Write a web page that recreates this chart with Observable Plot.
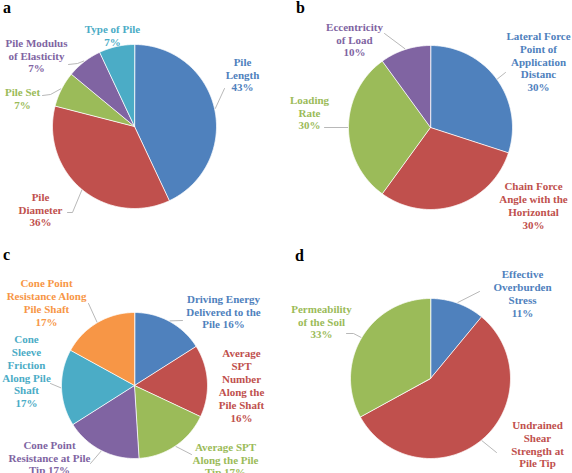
<!DOCTYPE html>
<html><head><meta charset="utf-8">
<script src="https://cdn.jsdelivr.net/npm/d3@7"></script>
<script src="https://cdn.jsdelivr.net/npm/@observablehq/plot@0.6"></script>
<style>
body{margin:0;background:#fff;}
#root{position:relative;width:572px;height:473px;overflow:hidden;}
.panel{position:absolute;}
.tag{position:absolute;font:bold 16px/16px "Liberation Serif",serif;color:#000;}
</style></head><body><div id="root"></div>
<script>
// ---------- DATA ----------
const aNames = ["Pile\nLength", "Pile\nDiameter", "Pile Set", "Pile Modulus\nof Elasticity", "Type of Pile"];
const aValues = [43, 36, 7, 7, 7];

const bNames = ["Lateral Force\nPoint of\nApplication\nDistanc", "Chain Force\nAngle with the\nHorizontal", "Loading\nRate", "Eccentricity\nof Load"];
const bValues = [30, 30, 30, 10];

const cNames = ["Driving Energy\nDelivered to the\nPile", "Average\nSPT\nNumber\nAlong the\nPile Shaft", "Average SPT\nAlong the Pile\nTip", "Cone Point\nResistance at Pile\nTip", "Cone\nSleeve\nFriction\nAlong Pile\nShaft", "Cone Point\nResistance Along\nPile Shaft"];
const cValues = [16, 16, 17, 17, 17, 17];

const dNames = ["Effective\nOverburden\nStress", "Undrained\nShear\nStrength at\nPile Tip", "Permeability\nof the Soil"];
const dValues = [11, 56, 33];

const panelTags = ["a", "b", "c", "d"];

// ---------- STYLE / LAYOUT ----------
const blue = "#4F81BD", red = "#C0504D", green = "#9BBB59", purple = "#8064A2", aqua = "#4BACC6", orange = "#F79646";

const layout = [
  {left: 0, top: 0, W: 286, H: 236, cx: 134, cy: 126, r: 82, tagX: 3, tagY: 0,
   names: aNames, values: aValues, colors: [blue, red, green, purple, aqua],
   seps: ["\n", "\n", "\n", "\n", "\n"],
   labelAt: [[242, 74], [40, 209], [22, 97.5], [36, 55], [112, 34.5]],
   leaders: [[[224, 88]], [[72, 212], [67, 212]], [[50, 94], [42, 95]], [[77, 63], [68, 64]], null]},
  {left: 286, top: 0, W: 286, H: 236, cx: 144, cy: 127, r: 82, tagX: 10, tagY: 0,
   names: bNames, values: bValues, colors: [blue, red, green, purple],
   seps: ["\n", "\n", "\n", "\n"],
   labelAt: [[252, 61], [247, 205], [23, 112], [68, 39]],
   leaders: [[[219, 72]], null, [[38, 127]], [[98, 33]]]},
  {left: 0, top: 236, W: 286, H: 237, cx: 134, cy: 149, r: 73, tagX: 3, tagY: 11,
   names: cNames, values: cValues, colors: [blue, red, green, purple, aqua, orange],
   seps: [" ", "\n", " ", " ", "\n", "\n"],
   labelAt: [[223, 75], [241, 149], [225, 223], [49, 221], [26, 134.5], [46, 66]],
   leaders: [[[182, 84]], null, [[191, 218]], [[90, 227]], [[50, 147]], [[88, 67]]]},
  {left: 286, top: 236, W: 286, H: 237, cx: 144, cy: 142, r: 80, tagX: 9, tagY: 12,
   names: dNames, values: dValues, colors: [blue, red, green],
   seps: ["\n", "\n", "\n"],
   labelAt: [[236, 57], [251, 214], [35, 85]],
   leaders: [[[193, 55]], [[210, 216]], [[67, 97], [60, 97]]]}
];

const root = document.getElementById("root");

layout.forEach((L, p) => {
  const {W, H, cx, cy, r, names, values, colors} = L;
  const ux = px => (px - cx) / r;
  const uy = py => (cy - py) / r;
  const arcs = d3.pie().sort(null).value(d => d)(values);

  const poly = [];
  const leaderPts = [];
  const labels = [];
  arcs.forEach((a, i) => {
    const k = names[i];
    poly.push({k, x: 0, y: 0});
    const n = Math.max(2, Math.ceil((a.endAngle - a.startAngle) / 0.01));
    for (let j = 0; j <= n; j++) {
      const t = a.startAngle + (a.endAngle - a.startAngle) * j / n;
      poly.push({k, x: Math.sin(t), y: Math.cos(t)});
    }
    const mid = (a.startAngle + a.endAngle) / 2;
    if (L.leaders[i]) {
      leaderPts.push({k, x: Math.sin(mid) * 1.01, y: Math.cos(mid) * 1.01});
      L.leaders[i].forEach(([px, py]) => leaderPts.push({k, x: ux(px), y: uy(py)}));
    }
    const [lx, ly] = L.labelAt[i];
    labels.push({k, x: ux(lx), y: uy(ly), text: k + L.seps[i] + values[i] + "%"});
  });

  const chart = Plot.plot({
    width: W, height: H, margin: 0,
    x: {domain: [-cx / r, (W - cx) / r], axis: null},
    y: {domain: [-(H - cy) / r, cy / r], axis: null},
    color: {domain: names, range: colors},
    style: {background: "transparent", overflow: "visible"},
    marks: [
      Plot.line(poly, {x: "x", y: "y", z: "k", fill: "k", stroke: "white", strokeWidth: 0.8, curve: "linear-closed"}),
      Plot.line(leaderPts, {x: "x", y: "y", z: "k", stroke: "#A6A6A6", strokeWidth: 0.8}),
      Plot.text(labels, {x: "x", y: "y", text: "text", fill: "k", fontSize: 11, fontWeight: "bold",
        fontFamily: "Liberation Serif", lineHeight: 1.17, textAnchor: "middle"})
    ]
  });
  const wrap = document.createElement("div");
  wrap.className = "panel";
  wrap.style.left = L.left + "px";
  wrap.style.top = L.top + "px";
  wrap.appendChild(chart);
  root.appendChild(wrap);

  const tag = document.createElement("div");
  tag.className = "tag";
  tag.textContent = panelTags[p];
  tag.style.left = (L.left + L.tagX) + "px";
  tag.style.top = (L.top + L.tagY) + "px";
  root.appendChild(tag);
});
</script></body></html>
